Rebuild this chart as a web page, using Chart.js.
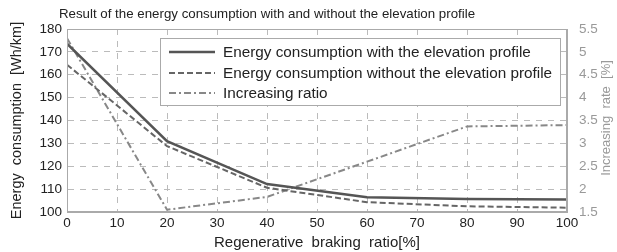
<!DOCTYPE html>
<html lang="en">
<head>
  <meta charset="UTF-8" />
  <title>Energy consumption vs regenerative braking ratio</title>
  <script src="https://cdn.jsdelivr.net/npm/chart.js"></script>
  <style>
    body { margin: 0; background: #ffffff; }
    #wrap { width: 617px; height: 252px; }
  </style>
</head>
<body>
  <div id="wrap"><canvas id="chart" width="617" height="252"></canvas></div>

  <script>
    // values
    const brakingRatio = [0, 20, 40, 60, 80, 100];
    const withElevation = [173.6, 131, 112.2, 106.5, 105.7, 105.5];
    const withoutElevation = [164.4, 128.8, 110.6, 104.3, 102.5, 101.9];
    const increasingRatio = [5.3, 1.55, 1.83, 2.6, 3.37, 3.4];

    const titleText = 'Result of the energy consumption with and without the elevation profile';
    const rightTitle = 'Increasing  rate  [%]';
    const FONT = "'Liberation Sans', Arial, sans-serif";

    const pts = (ys) => brakingRatio.map((x, i) => ({ x: x, y: ys[i] }));

    // title, frame, right label and legend box drawn by hand, matlab style
    const extras = {
      id: 'extras',
      afterDraw(chart) {
        const c = chart.ctx;
        const a = chart.chartArea;
        c.save();
        c.fillStyle = '#222';
        c.font = '13.3px ' + FONT;
        c.textAlign = 'center';
        c.textBaseline = 'middle';
        c.fillText(titleText, 267, 14);

        // solid box round the plot
        c.strokeStyle = '#aaa';
        c.lineWidth = 1;
        c.strokeRect(Math.round(a.left) + 0.5, Math.round(a.top) + 0.5,
          Math.round(a.right - a.left) - 1, Math.round(a.bottom - a.top) - 1);

        // right axis title reads bottom to top
        c.save();
        c.translate(606, 118);
        c.rotate(-Math.PI / 2);
        c.fillStyle = '#999';
        c.font = '13px ' + FONT;
        c.fillText(rightTitle, 0, 0);
        c.restore();

        const bx = 160, by = 38, bw = 400, bh = 67;
        c.fillStyle = '#fff';
        c.fillRect(bx, by, bw, bh);
        c.strokeStyle = '#aaa';
        c.strokeRect(bx + 0.5, by + 0.5, bw, bh);

        const rows = [52, 73, 93];
        chart.data.datasets.forEach((ds, i) => {
          c.strokeStyle = ds.borderColor;
          c.lineWidth = ds.borderWidth;
          c.setLineDash(ds.borderDash || []);
          c.beginPath();
          c.moveTo(169, rows[i]);
          c.lineTo(215, rows[i]);
          c.stroke();
          c.setLineDash([]);
          c.fillStyle = '#222';
          c.font = '15.3px ' + FONT;
          c.textAlign = 'left';
          c.fillText(ds.label, 223, rows[i] + 1);
        });
        c.restore();
      }
    };

    new Chart(document.getElementById('chart'), {
      type: 'line',
      data: {
        datasets: [
          {
            label: 'Energy consumption with the elevation profile',
            data: pts(withElevation),
            borderColor: '#555',
            borderWidth: 2.5,
            yAxisID: 'y'
          },
          {
            label: 'Energy consumption without the elevation profile',
            data: pts(withoutElevation),
            borderColor: '#666',
            borderWidth: 2,
            borderDash: [6, 3],
            yAxisID: 'y'
          },
          {
            label: 'Increasing ratio',
            data: pts(increasingRatio),
            borderColor: '#888',
            borderWidth: 2,
            borderDash: [7, 3, 2, 3],
            yAxisID: 'y2'
          }
        ]
      },
      options: {
        responsive: false,
        animation: false,
        elements: { point: { radius: 0 }, line: { tension: 0 } },
        layout: { padding: { top: 29, left: 0, right: 0, bottom: 0 } },
        plugins: { legend: { display: false }, title: { display: false }, tooltip: { enabled: false } },
        scales: {
          x: {
            type: 'linear',
            min: 0,
            max: 100,
            ticks: { stepSize: 10, color: '#222', font: { size: 13.5, family: FONT }, padding: 3 },
            grid: { color: '#bbb', drawTicks: false },
            border: { color: '#aaa', dash: [6, 6] },
            title: { display: true, text: 'Regenerative  braking  ratio[%]', color: '#222', font: { size: 15, family: FONT }, padding: { top: 1, bottom: 0 } },
            afterFit(s) { s.height = 40; }
          },
          y: {
            position: 'left',
            min: 100,
            max: 180,
            ticks: { stepSize: 10, color: '#222', font: { size: 13.5, family: FONT }, padding: 5 },
            grid: { color: '#bbb', drawTicks: false },
            border: { color: '#aaa', dash: [6, 6] },
            title: { display: true, text: 'Energy  consumption  [Wh/km]', color: '#222', font: { size: 14.5, family: FONT }, padding: { top: 8, bottom: 2 } },
            afterFit(s) { s.width = 67; }
          },
          y2: {
            position: 'right',
            min: 1.5,
            max: 5.5,
            ticks: {
              stepSize: 0.5, color: '#999', font: { size: 13.5, family: FONT }, padding: 4,
              callback: (v) => String(v)
            },
            grid: { display: false },
            border: { color: '#aaa' },
            afterFit(s) { s.width = 50; }
          }
        }
      },
      plugins: [extras]
    });
  </script>
</body>
</html>
